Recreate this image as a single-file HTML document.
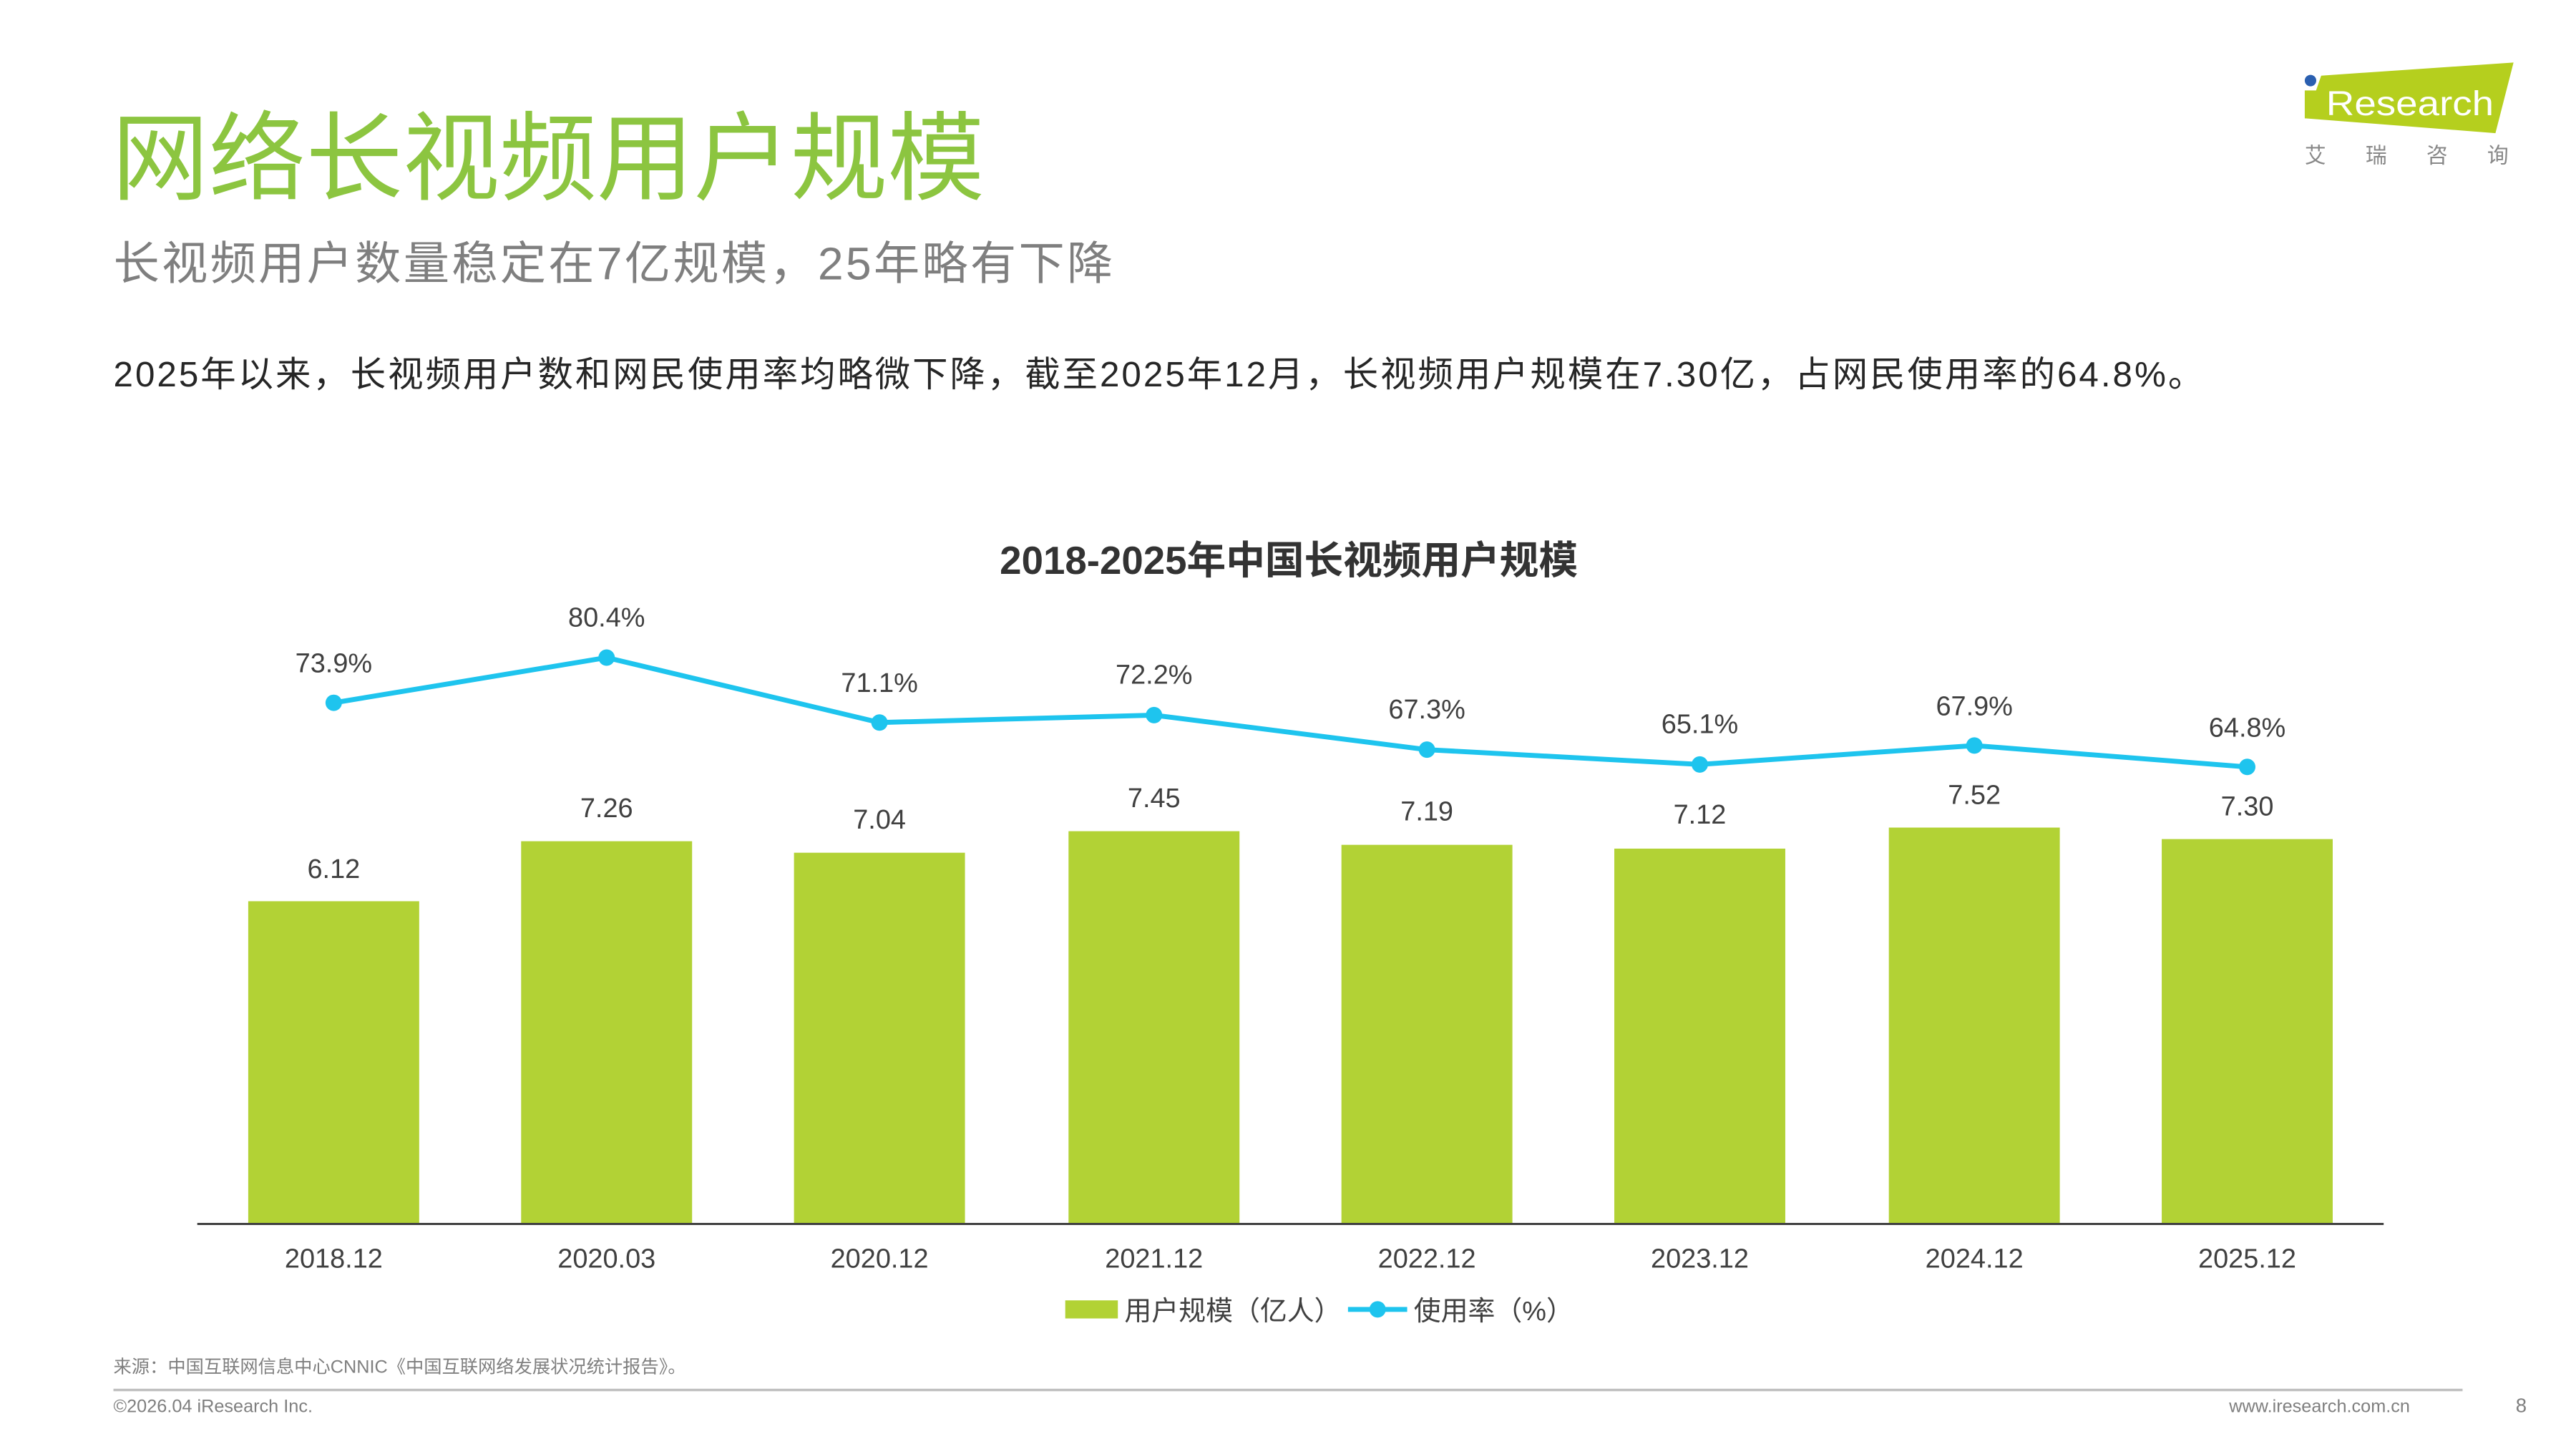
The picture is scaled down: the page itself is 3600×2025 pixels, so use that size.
<!DOCTYPE html>
<html><head><meta charset="utf-8"><style>
html,body{margin:0;padding:0;background:#fff;}
svg{display:block;}
text{font-family:"Liberation Sans","Noto Sans CJK SC",sans-serif;}
</style></head><body>
<svg width="3600" height="2025" viewBox="0 0 1567 881.4" xmlns="http://www.w3.org/2000/svg">
<rect width="1567" height="881.4" fill="#fff"/>
<!-- logo -->
<polygon points="1412,46 1529,38 1518,81 1403,72" fill="#b5cf1e"/>
<rect x="1402" y="55" width="7" height="17" fill="#b5cf1e"/>
<circle cx="1405.5" cy="49" r="3.5" fill="#2a5fb0"/>
<text x="1415" y="70" font-size="21" fill="#fff" textLength="102" lengthAdjust="spacingAndGlyphs">Research</text>
<text x="1402" y="99" font-size="13" fill="#888" letter-spacing="24">艾瑞咨询</text>
<!-- titles -->
<text x="68" y="117" font-size="59" fill="#8cc540">网络长视频用户规模</text>
<text x="69" y="170" font-size="28" fill="#7f7f7f" letter-spacing="1.4">长视频用户数量稳定在7亿规模，25年略有下降</text>
<text x="69" y="235" font-size="21.5" fill="#262626" letter-spacing="1.3">2025年以来，长视频用户数和网民使用率均略微下降，截至2025年12月，长视频用户规模在7.30亿，占网民使用率的64.8%。</text>
<text x="784" y="349" font-size="23.8" font-weight="bold" fill="#333" text-anchor="middle">2018-2025年中国长视频用户规模</text>
<!-- bars -->
<g fill="#b2d235">
<rect x="151" y="548.2" width="104" height="195.8"/>
<rect x="317" y="511.7" width="104" height="232.3"/>
<rect x="483" y="518.7" width="104" height="225.3"/>
<rect x="650" y="505.6" width="104" height="238.4"/>
<rect x="816" y="513.9" width="104" height="230.1"/>
<rect x="982" y="516.2" width="104" height="227.8"/>
<rect x="1149" y="503.4" width="104" height="240.6"/>
<rect x="1315" y="510.4" width="104" height="233.6"/>
</g>
<line x1="120" y1="744.5" x2="1450" y2="744.5" stroke="#404040" stroke-width="1.3"/>
<g font-size="16.5" fill="#404040" text-anchor="middle">
<text x="203" y="534">6.12</text><text x="369" y="497">7.26</text><text x="535" y="504">7.04</text><text x="702" y="491">7.45</text>
<text x="868" y="499">7.19</text><text x="1034" y="501">7.12</text><text x="1201" y="489">7.52</text><text x="1367" y="496">7.30</text>
<text x="203" y="409">73.9%</text><text x="369" y="381">80.4%</text><text x="535" y="421">71.1%</text><text x="702" y="416">72.2%</text>
<text x="868" y="437">67.3%</text><text x="1034" y="446">65.1%</text><text x="1201" y="435">67.9%</text><text x="1367" y="448">64.8%</text>
<text x="203" y="771">2018.12</text><text x="369" y="771">2020.03</text><text x="535" y="771">2020.12</text><text x="702" y="771">2021.12</text>
<text x="868" y="771">2022.12</text><text x="1034" y="771">2023.12</text><text x="1201" y="771">2024.12</text><text x="1367" y="771">2025.12</text>
</g>
<polyline points="203,427.5 369,400 535,439.5 702,435 868,456 1034,465 1201,453.5 1367,466.5" fill="none" stroke="#1ec4ee" stroke-width="3"/>
<g fill="#1ec4ee">
<circle cx="203" cy="427.5" r="5"/><circle cx="369" cy="400" r="5"/><circle cx="535" cy="439.5" r="5"/><circle cx="702" cy="435" r="5"/>
<circle cx="868" cy="456" r="5"/><circle cx="1034" cy="465" r="5"/><circle cx="1201" cy="453.5" r="5"/><circle cx="1367" cy="466.5" r="5"/>
</g>
<!-- legend -->
<rect x="648" y="791" width="32" height="11" fill="#b2d235"/>
<text x="684" y="803" font-size="16.5" fill="#404040">用户规模（亿人）</text>
<line x1="820" y1="796.5" x2="856" y2="796.5" stroke="#1ec4ee" stroke-width="3"/>
<circle cx="838" cy="796.5" r="5" fill="#1ec4ee"/>
<text x="860" y="803" font-size="16.5" fill="#404040">使用率（%）</text>
<!-- footer -->
<text x="69" y="835" font-size="11" fill="#7f7f7f">来源：中国互联网信息中心CNNIC《中国互联网络发展状况统计报告》。</text>
<line x1="69" y1="845.5" x2="1498" y2="845.5" stroke="#bfbfbf" stroke-width="1.5"/>
<text x="69" y="859" font-size="11" fill="#7f7f7f">©2026.04 iResearch Inc.</text>
<text x="1466" y="859" font-size="11" fill="#7f7f7f" text-anchor="end">www.iresearch.com.cn</text>
<text x="1537" y="859" font-size="12" fill="#7f7f7f" text-anchor="end">8</text>
</svg>
</body></html>
